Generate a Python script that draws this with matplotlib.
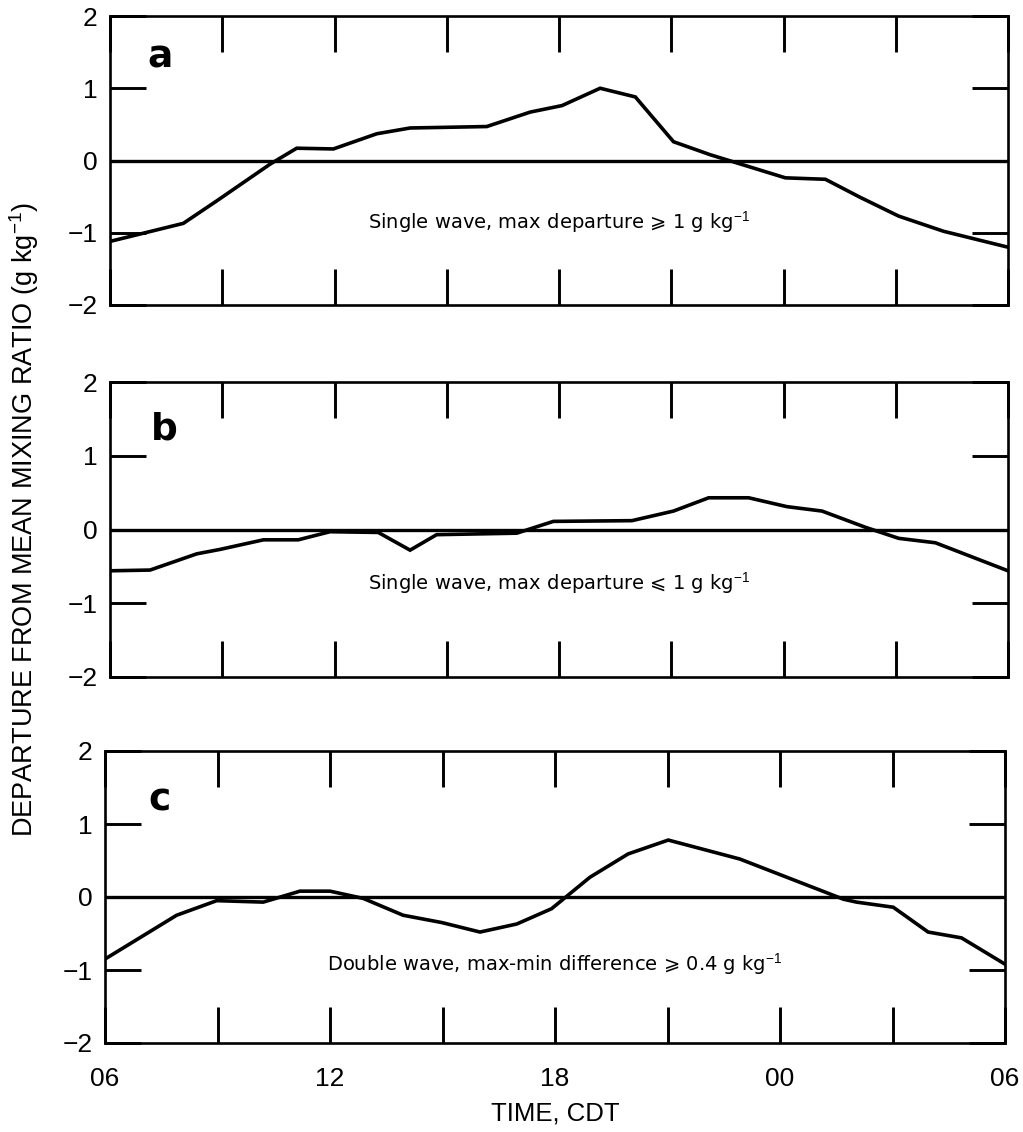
import matplotlib
matplotlib.use("Agg")
import matplotlib.pyplot as plt
from matplotlib.ticker import FixedLocator

# ---- data (hours after 06 CDT, departure in g/kg) ----
hours_a = [0, 1.96, 2.85, 4.28, 4.99, 5.97, 7.13, 8.02, 10.07, 11.23, 12.08,
           13.1, 14.04, 15.06, 16.04, 18.05, 19.12, 20.05, 21.08, 22.28, 24]
vals_a = [-1.12, -0.87, -0.56, -0.05, 0.17, 0.16, 0.37, 0.45, 0.47, 0.67, 0.76,
          1.0, 0.88, 0.26, 0.08, -0.24, -0.26, -0.51, -0.77, -0.98, -1.2]

hours_b = [0, 1.07, 2.32, 2.94, 4.1, 5.03, 5.88, 7.17, 8.02, 8.73, 10.87, 11.85,
           13.95, 15.06, 16.0, 17.07, 18.09, 19.03, 20.19, 21.08, 22.06, 24]
vals_b = [-0.56, -0.55, -0.33, -0.27, -0.14, -0.14, -0.03, -0.04, -0.28, -0.07,
          -0.05, 0.11, 0.12, 0.25, 0.43, 0.43, 0.31, 0.25, 0.03, -0.12, -0.18, -0.56]

hours_c = [0, 1.91, 2.98, 4.22, 5.2, 6.0, 6.89, 7.95, 8.98, 10.0, 10.98, 11.91,
           12.93, 13.95, 15.02, 16.93, 19.69, 20.04, 21.02, 21.95, 22.84, 24]
vals_c = [-0.85, -0.25, -0.05, -0.07, 0.08, 0.08, -0.02, -0.25, -0.35, -0.48,
          -0.37, -0.16, 0.27, 0.59, 0.78, 0.52, -0.03, -0.07, -0.14, -0.48, -0.56, -0.92]

panel_letters = ["a", "b", "c"]
panel_notes = [
    "Single wave, max departure \u2A7E 1 g kg$^{-1}$",
    "Single wave, max departure \u2A7D 1 g kg$^{-1}$",
    "Double wave, max-min difference \u2A7E 0.4 g kg$^{-1}$",
]
note_y = [-0.85, -0.72, -0.92]
x_tick_pos = [0, 3, 6, 9, 12, 15, 18, 21, 24]
x_tick_labels = ["06", "", "12", "", "18", "", "00", "", "06"]
y_ticks = [-2, -1, 0, 1, 2]
y_tick_labels = ["\u22122", "\u22121", "0", "1", "2"]

plt.rcParams["font.family"] = ["Liberation Sans", "DejaVu Sans"]
plt.rcParams["mathtext.fontset"] = "custom"
plt.rcParams["mathtext.rm"] = "Liberation Sans"
plt.rcParams["mathtext.it"] = "Liberation Sans"

fig = plt.figure(figsize=(10.23, 11.32), dpi=100)

W, H = 1023.0, 1132.0
boxes = [
    (110, 16, 1008, 305),
    (110, 382, 1008, 677),
    (105, 751, 1005, 1043),
]
series = [(hours_a, vals_a), (hours_b, vals_b), (hours_c, vals_c)]
letter_pos = [(1.34, 1.43), (1.44, 1.36), (1.44, 1.32)]

for i, (box, (hx, vy)) in enumerate(zip(boxes, series)):
    l, t, r, b = box
    ax = fig.add_axes([l / W, 1 - b / H, (r - l) / W, (b - t) / H])
    ax.set_xlim(0, 24)
    ax.set_ylim(-2, 2)
    ax.axhline(0, color="black", lw=2.4, zorder=2)
    ax.plot(hx, vy, color="black", lw=2.6, solid_joinstyle="miter", zorder=3)
    for s in ax.spines.values():
        s.set_linewidth(1.9)
    ax.xaxis.set_major_locator(FixedLocator(x_tick_pos))
    ax.set_yticks(y_ticks)
    ax.set_yticklabels(y_tick_labels)
    ax.tick_params(axis="x", which="major", direction="in", length=26, width=2.1,
                   top=True, bottom=True, labelsize=19, pad=17)
    ax.tick_params(axis="y", which="major", direction="in", length=26, width=2.1,
                   left=True, right=True, labelsize=19, pad=9)
    if i == 2:
        ax.set_xticklabels(x_tick_labels)
    else:
        ax.set_xticklabels([])
    ax.text(letter_pos[i][0], letter_pos[i][1], panel_letters[i],
            fontsize=27, fontweight="bold",
            family=["DejaVu Sans"],
            ha="center", va="center")
    ax.text(12.0, note_y[i], panel_notes[i], fontsize=14,
            family=["DejaVu Sans"], ha="center", va="center")

fig.text(24 / W, 1 - 520 / H, "DEPARTURE FROM MEAN MIXING RATIO (g kg$^{-1}$)",
         rotation=90, ha="center", va="center", fontsize=19.5)
fig.text(555 / W, 1 - 1114 / H, "TIME, CDT", ha="center", va="center", fontsize=18.5)

fig.savefig("out.png", dpi=100)
